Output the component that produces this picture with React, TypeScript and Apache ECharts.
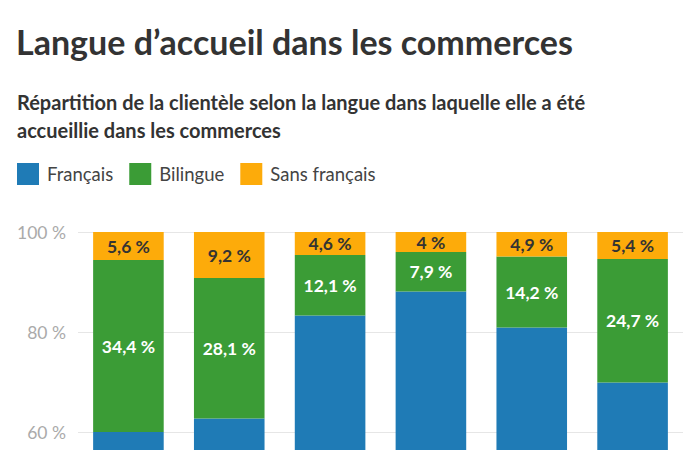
import React, { useEffect, useRef } from "react";
import * as echarts from "echarts";

const categories = ["Cat. 1", "Cat. 2", "Cat. 3", "Cat. 4", "Cat. 5", "Cat. 6"];
const francais = [60.0, 62.7, 83.3, 88.1, 80.9, 69.9];
const bilingue = [34.4, 28.1, 12.1, 7.9, 14.2, 24.7];
const sansFrancais = [5.6, 9.2, 4.6, 4, 4.9, 5.4];
const yTicks = { min: 0, max: 100, interval: 20 };

const FONT = "Lato, 'Noto Sans', sans-serif";
const fmt = (v: number) => String(v).replace(".", ",") + " %";

export default function App() {
  const ref = useRef<HTMLDivElement>(null);
  useEffect(() => {
    if (!ref.current) return;
    const chart = echarts.init(ref.current, undefined, { renderer: "svg" });
    const labelWhite = {
      show: true,
      position: "inside",
      color: "#ffffff",
      fontFamily: FONT,
      fontSize: 17.5,
      fontWeight: "bold",
      formatter: (p: any) => fmt(p.value),
    };
    chart.setOption({
      animation: false,
      backgroundColor: "#ffffff",
      textStyle: { fontFamily: FONT },
      title: [
        {
          text: "Langue d\u2019accueil dans les commerces",
          left: 16,
          top: 24,
          padding: 0,
          textStyle: { fontFamily: FONT, fontSize: 34, fontWeight: "bold", color: "#333333" },
        },
        {
          text: "Répartition de la clientèle selon la langue dans laquelle elle a été\naccueillie dans les commerces",
          left: 17,
          top: 88,
          padding: 0,
          textStyle: { fontFamily: FONT, fontSize: 20, fontWeight: "bold", color: "#333333", lineHeight: 28 },
        },
      ],
      legend: {
        left: 17,
        top: 163,
        padding: 0,
        icon: "rect",
        itemWidth: 22,
        itemHeight: 22,
        itemGap: 16,
        textStyle: { fontFamily: FONT, fontSize: 18.5, color: "#444444", padding: [0, 0, 0, 3] },
        data: ["Français", "Bilingue", "Sans français"],
      },
      grid: { left: 78, right: 17, top: 232, bottom: 68 },
      xAxis: {
        type: "category",
        data: categories,
        axisLine: { show: false },
        axisTick: { show: false },
        axisLabel: { fontFamily: FONT, fontSize: 16, color: "#666666" },
      },
      yAxis: {
        type: "value",
        min: yTicks.min,
        max: yTicks.max,
        interval: yTicks.interval,
        axisLine: { show: false },
        axisTick: { show: false },
        splitLine: { lineStyle: { color: "#e6e6e6", width: 1 } },
        axisLabel: {
          formatter: "{value} %",
          fontFamily: FONT,
          fontSize: 17.5,
          color: "#aaaaaa",
          margin: 12,
        },
      },
      series: [
        {
          name: "Français",
          type: "bar",
          stack: "total",
          barCategoryGap: "30%",
          data: francais,
          itemStyle: { color: "#1f7bb6" },
          label: labelWhite,
        },
        {
          name: "Bilingue",
          type: "bar",
          stack: "total",
          data: bilingue,
          itemStyle: { color: "#3b9c36" },
          label: labelWhite,
        },
        {
          name: "Sans français",
          type: "bar",
          stack: "total",
          data: sansFrancais,
          itemStyle: { color: "#fdab0a" },
          label: { ...labelWhite, color: "#333333" },
        },
      ],
    });
    return () => chart.dispose();
  }, []);
  return (
    <div
      style={{
        position: "fixed",
        left: 0,
        top: 0,
        width: 700,
        height: 450,
        overflow: "hidden",
        background: "#ffffff",
      }}
    >
      <div ref={ref} style={{ width: 700, height: 800 }} />
    </div>
  );
}
